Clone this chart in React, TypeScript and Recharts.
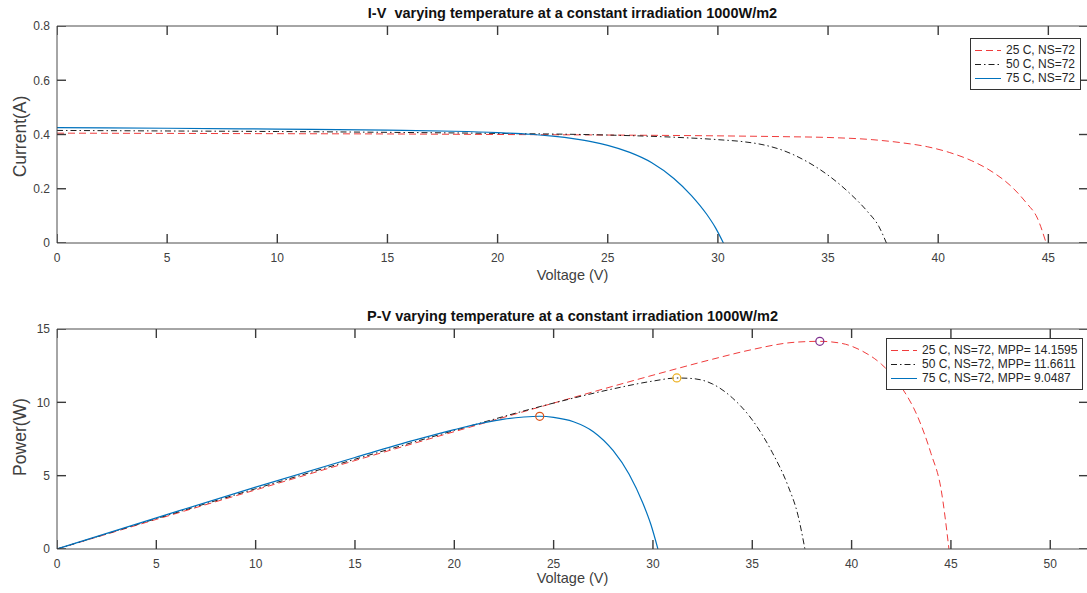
import React from "react";
import { ComposedChart, Line, Scatter, XAxis, YAxis, Legend } from "recharts";

// I-V readings (voltage V, current A)
const iv25 = [[0, 0.405], [5, 0.404], [10, 0.403], [15, 0.402], [20, 0.4], [25, 0.398], [30, 0.395], [33, 0.392], [35, 0.389], [37, 0.381], [38.4, 0.369], [39.5, 0.355], [40.5, 0.334], [41.5, 0.304], [42.5, 0.26], [43.3, 0.21], [44, 0.148], [44.5, 0.092], [44.9, 0]];
const iv50 = [[0, 0.415], [5, 0.413], [10, 0.411], [15, 0.408], [20, 0.404], [25, 0.398], [28, 0.39], [30, 0.381], [31.2, 0.373], [32, 0.363], [33, 0.34], [34, 0.302], [35, 0.25], [36, 0.182], [36.8, 0.115], [37.3, 0.062], [37.65, 0]];
const iv75 = [[0, 0.425], [5, 0.423], [10, 0.42], [15, 0.416], [18, 0.412], [20, 0.407], [21.5, 0.401], [22.5, 0.394], [23.5, 0.384], [24.3, 0.373], [25, 0.36], [26, 0.334], [27, 0.296], [28, 0.238], [28.8, 0.175], [29.5, 0.105], [29.9, 0.055], [30.25, 0]];

// P-V readings (voltage V, power W)
const pv25 = [[0, 0], [5, 2.02], [10, 4.03], [15, 6.03], [20, 8.0], [25, 9.95], [30, 11.85], [33, 12.94], [35, 13.6], [37, 14.08], [38.4, 14.16], [39.5, 14.02], [40.5, 13.52], [41.5, 12.6], [42.5, 11.05], [43.3, 9.1], [44, 6.5], [44.5, 4.1], [44.9, 0]];
const pv50 = [[0, 0], [5, 2.07], [10, 4.11], [15, 6.12], [20, 8.08], [25, 9.95], [28, 10.92], [30, 11.45], [31.2, 11.66], [32, 11.62], [33, 11.25], [34, 10.3], [35, 8.8], [36, 6.6], [36.8, 4.3], [37.3, 2.3], [37.65, 0]];
const pv75 = [[0, 0], [5, 2.12], [10, 4.22], [15, 6.24], [18, 7.42], [20, 8.14], [21.5, 8.62], [22.5, 8.86], [23.5, 9.0], [24.3, 9.05], [25, 8.98], [26, 8.68], [27, 8.0], [28, 6.7], [28.8, 5.1], [29.5, 3.1], [29.9, 1.65], [30.25, 0]];

// maximum power points
const mpp25 = [{ v: 38.4, p: 14.1595 }];
const mpp50 = [{ v: 31.2, p: 11.6611 }];
const mpp75 = [{ v: 24.3, p: 9.0487 }];

const ivTicksX = [0, 5, 10, 15, 20, 25, 30, 35, 40, 45];
const ivTicksY = [0, 0.2, 0.4, 0.6, 0.8];
const pvTicksX = [0, 5, 10, 15, 20, 25, 30, 35, 40, 45, 50];
const pvTicksY = [0, 5, 10, 15];

const ivNames = ["25 C, NS=72", "50 C, NS=72", "75 C, NS=72"];
const pvNames = ["25 C, NS=72, MPP= 14.1595", "50 C, NS=72, MPP= 11.6611", "75 C, NS=72, MPP= 9.0487"];

const toIV = (rows: number[][]) => rows.map(([v, i]) => ({ v, i }));
const toPV = (rows: number[][]) => rows.map(([v, p]) => ({ v, p }));

const FONT = "'Liberation Sans', Arial, Helvetica, sans-serif";
const AXIS = "#4d4d4d";
const TXT = "#404040";
const RED = "#f03c3c";
const BLACK = "#1e1e1e";
const BLUE = "#0072BD";
const DASH = "7 4";
const DASHDOT = "6 3 1.5 3";
const TICK_PX = 9;

const tickStyle = { fill: TXT, fontSize: 12, fontFamily: FONT };

function LegendBox(props: any) {
  const items = (props.payload || []).filter((it: any) => it.type !== "none");
  return (
    <div style={{ border: "1px solid #333", background: "#fff", padding: "4px 5px 4px 0", fontFamily: FONT, fontSize: 12, color: "#262626" }}>
      {items.map((it: any) => (
        <div key={it.value} style={{ height: 14, display: "flex", alignItems: "center", whiteSpace: "nowrap" }}>
          <svg width={35} height={14} style={{ flex: "none" }}>
            <line x1={4} x2={30} y1={7.5} y2={7.5} stroke={it.color} strokeWidth={1} strokeDasharray={it.payload?.strokeDasharray} />
          </svg>
          <span>{it.value}</span>
        </div>
      ))}
    </div>
  );
}

function ring(color: string) {
  return (p: any) => <circle cx={p.cx} cy={p.cy} r={4} fill="none" stroke={color} strokeWidth={1.2} />;
}

// inward tick mark drawn from a point on the box edge
function mark(ddx: number, ddy: number) {
  return (p: any) => <line x1={p.cx} y1={p.cy} x2={p.cx + ddx} y2={p.cy + ddy} stroke="#3a3a3a" strokeWidth={1.4} />;
}

function yTitle(text: string, shift: number) {
  return (p: any) => {
    const vb = p.viewBox;
    const cx = vb.x + 20;
    const cy = vb.y + vb.height / 2 + shift;
    return (
      <text x={cx} y={cy} dy="0.35em" textAnchor="middle" transform={`rotate(-90 ${cx} ${cy})`} fill={TXT} fontSize={17.5} fontFamily={FONT}>
        {text}
      </text>
    );
  };
}

type FrameProps = { xMax: number; xTicks: number[]; yMax: number; yTicks: number[]; bottomH: number; labelOffset: number; title: string; yLabel: string; yShift: number };

function Frame(props: FrameProps) {
  const { xMax, xTicks, yMax, yTicks, bottomH, labelOffset, title, yLabel, yShift } = props;
  const marks = (key: string, pts: { v: number; m: number }[], ddx: number, ddy: number) => (
    <Scatter key={key} xAxisId="b" yAxisId="l" data={pts} dataKey="m" legendType="none" shape={mark(ddx, ddy)} isAnimationActive={false} />
  );
  return [
    <XAxis key="xb" xAxisId="b" dataKey="v" type="number" allowDataOverflow interval={0} domain={[0, xMax]} ticks={xTicks} height={bottomH}
      axisLine={{ stroke: AXIS }} tickLine={false} tickSize={0} tickMargin={10} tick={tickStyle}
      label={{ value: "Voltage (V)", position: "insideTop", offset: labelOffset, fill: TXT, fontSize: 14.5, fontFamily: FONT }} />,
    <XAxis key="xt" xAxisId="t" dataKey="v" type="number" orientation="top" allowDataOverflow domain={[0, xMax]} height={1}
      axisLine={{ stroke: AXIS }} tickLine={false} tick={false}
      label={{ value: title, position: "top", offset: 7, fill: "#111", fontSize: 14.5, fontWeight: "bold", fontFamily: FONT }} />,
    <YAxis key="yl" yAxisId="l" type="number" allowDataOverflow interval={0} domain={[0, yMax]} ticks={yTicks} width={57}
      axisLine={{ stroke: AXIS }} tickLine={false} tickSize={0} tickMargin={7} tick={tickStyle}
      label={{ content: yTitle(yLabel, yShift) }} />,
    // MATLAB box: inward tick marks on all four sides
    marks("mb", xTicks.map((t) => ({ v: t, m: 0 })), 0, -TICK_PX),
    marks("mt", xTicks.map((t) => ({ v: t, m: yMax })), 0, TICK_PX),
    marks("ml", yTicks.map((t) => ({ v: 0, m: t })), TICK_PX, 0),
    marks("mr", yTicks.map((t) => ({ v: xMax, m: t })), -TICK_PX, 0),
  ];
}

export default function App() {
  return (
    <div style={{ position: "fixed", left: 0, top: 0, width: 1087, height: 593, overflow: "hidden", background: "#fff" }}>
      <div style={{ position: "absolute", left: 0, top: 0 }}>
        <ComposedChart width={1100} height={290} margin={{ top: 25, right: 12, bottom: 0, left: 0 }}>
          {Frame({ xMax: 46.8, xTicks: ivTicksX, yMax: 0.8, yTicks: ivTicksY, bottomH: 47, labelOffset: 27, title: "I-V\u00a0 varying temperature at a constant irradiation 1000W/m2", yLabel: "Current(A)", yShift: 2 })}
          <Legend layout="vertical" align="center" verticalAlign="middle" content={LegendBox} wrapperStyle={{ left: 970, top: 38, width: "auto" }} />
          <Line xAxisId="b" yAxisId="l" data={toIV(iv25)} dataKey="i" name={ivNames[0]} type="monotone" stroke={RED} strokeWidth={1} strokeDasharray={DASH} dot={false} activeDot={false} isAnimationActive={false} />
          <Line xAxisId="b" yAxisId="l" data={toIV(iv50)} dataKey="i" name={ivNames[1]} type="monotone" stroke={BLACK} strokeWidth={1} strokeDasharray={DASHDOT} dot={false} activeDot={false} isAnimationActive={false} />
          <Line xAxisId="b" yAxisId="l" data={toIV(iv75)} dataKey="i" name={ivNames[2]} type="monotone" stroke={BLUE} strokeWidth={1.2} dot={false} activeDot={false} isAnimationActive={false} />
        </ComposedChart>
      </div>
      <div style={{ position: "absolute", left: 0, top: 290 }}>
        <ComposedChart width={1100} height={303} margin={{ top: 38, right: 12, bottom: 0, left: 0 }}>
          {Frame({ xMax: 51.9, xTicks: pvTicksX, yMax: 15, yTicks: pvTicksY, bottomH: 44, labelOffset: 24, title: "P-V varying temperature at a constant irradiation 1000W/m2", yLabel: "Power(W)", yShift: -2 })}
          <Legend layout="vertical" align="center" verticalAlign="middle" content={LegendBox} wrapperStyle={{ left: 886, top: 48, width: "auto" }} />
          <Line xAxisId="b" yAxisId="l" data={toPV(pv25)} dataKey="p" name={pvNames[0]} type="monotone" stroke={RED} strokeWidth={1} strokeDasharray={DASH} dot={false} activeDot={false} isAnimationActive={false} />
          <Line xAxisId="b" yAxisId="l" data={toPV(pv50)} dataKey="p" name={pvNames[1]} type="monotone" stroke={BLACK} strokeWidth={1} strokeDasharray={DASHDOT} dot={false} activeDot={false} isAnimationActive={false} />
          <Line xAxisId="b" yAxisId="l" data={toPV(pv75)} dataKey="p" name={pvNames[2]} type="monotone" stroke={BLUE} strokeWidth={1.2} dot={false} activeDot={false} isAnimationActive={false} />
          <Scatter xAxisId="b" yAxisId="l" data={mpp25} dataKey="p" legendType="none" shape={ring("#7E2F8E")} isAnimationActive={false} />
          <Scatter xAxisId="b" yAxisId="l" data={mpp50} dataKey="p" legendType="none" shape={ring("#EDB120")} isAnimationActive={false} />
          <Scatter xAxisId="b" yAxisId="l" data={mpp75} dataKey="p" legendType="none" shape={ring("#D95319")} isAnimationActive={false} />
        </ComposedChart>
      </div>
    </div>
  );
}
